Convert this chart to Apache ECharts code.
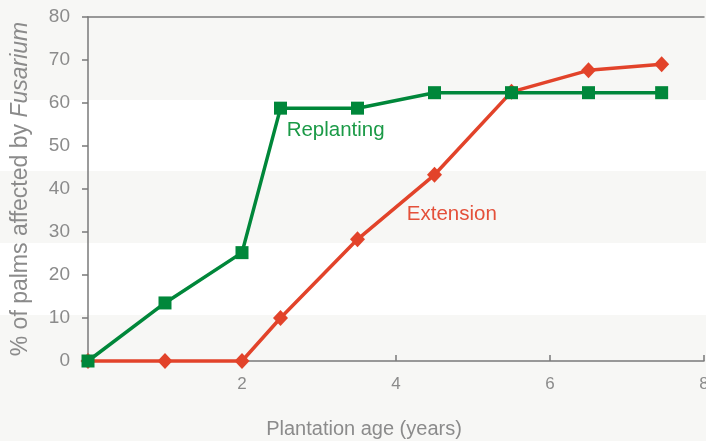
<!DOCTYPE html>
<html>
<head>
<meta charset="utf-8">
<title>Fusarium incidence by plantation age</title>
<script src="https://cdn.jsdelivr.net/npm/echarts@6/dist/echarts.min.js"></script>
<style>
  html, body { margin: 0; padding: 0; background: #f7f7f5; }
  #chart { width: 706px; height: 441px; }
</style>
</head>
<body>
<div id="chart"></div>
<script>
// Plantation age (years) at each survey point
const ages = [0, 1, 2, 2.5, 3.5, 4.5, 5.5, 6.5, 7.45];
// % of palms affected by Fusarium
const replanting = [0, 13.5, 25.2, 58.8, 58.8, 62.4, 62.4, 62.4, 62.4];
const extension = [0, 0, 0, 10, 28.3, 43.3, 62.6, 67.6, 69];

const xTicks = [0, 2, 4, 6, 8];
const yTicks = [0, 10, 20, 30, 40, 50, 60, 70, 80];

const GREEN = '#00873a';
const RED = '#e2432a';
const GREY_TEXT = '#8b8b8b';
const AXIS = '#7a7a7a';
const FONT = 'Liberation Sans, Helvetica, Arial, sans-serif';

const pairs = (xs, ys) => xs.map((x, i) => [x, ys[i]]);

const chart = echarts.init(document.getElementById('chart'), null, { renderer: 'canvas' });

chart.setOption({
  backgroundColor: '#f7f7f5',
  animation: false,
  textStyle: { fontFamily: FONT },
  // white stripes across the page background
  graphic: [
    { type: 'rect', z: -10, silent: true, shape: { x: 0, y: 100, width: 706, height: 71 }, style: { fill: '#ffffff' } },
    { type: 'rect', z: -10, silent: true, shape: { x: 0, y: 243, width: 706, height: 72 }, style: { fill: '#ffffff' } }
  ],
  grid: { left: 88, right: 2, top: 17, bottom: 80, outerBoundsMode: 'none', containLabel: false },
  xAxis: [
    {
      type: 'value',
      min: xTicks[0],
      max: xTicks[xTicks.length - 1],
      interval: 2,
      splitLine: { show: false },
      axisLine: { show: true, lineStyle: { color: AXIS, width: 1.5 } },
      axisTick: { show: true, inside: true, length: 6, lineStyle: { color: AXIS, width: 1.5 } },
      axisLabel: { showMinLabel: false, color: GREY_TEXT, fontSize: 17, margin: 15, fontFamily: FONT },
      name: 'Plantation age (years)',
      nameLocation: 'middle',
      nameGap: 58,
      nameTextStyle: { color: GREY_TEXT, fontSize: 20, fontFamily: FONT, padding: [0, 64, 0, 0] }
    },
    {
      type: 'value',
      position: 'top',
      min: xTicks[0],
      max: xTicks[xTicks.length - 1],
      axisLine: { show: true, lineStyle: { color: AXIS, width: 1.5 } },
      axisTick: { show: false },
      axisLabel: { show: false },
      splitLine: { show: false }
    }
  ],
  yAxis: {
    type: 'value',
    min: yTicks[0],
    max: yTicks[yTicks.length - 1],
    interval: 10,
    splitLine: { show: false },
    axisLine: { show: true, lineStyle: { color: AXIS, width: 1.5 } },
    axisTick: { show: true, length: 6, lineStyle: { color: AXIS, width: 1.5 } },
    axisLabel: { color: GREY_TEXT, fontSize: 19, margin: 18, fontFamily: FONT },
    name: '{n|% of palms affected by }{i|Fusarium}',
    nameLocation: 'middle',
    nameRotate: 90,
    nameGap: 56,
    nameTextStyle: {
      rich: {
        n: { color: GREY_TEXT, fontSize: 23, fontFamily: FONT },
        i: { color: GREY_TEXT, fontSize: 23, fontFamily: FONT, fontStyle: 'italic' }
      }
    }
  },
  series: [
    {
      name: 'Extension',
      type: 'line',
      data: pairs(ages, extension),
      symbol: 'diamond',
      symbolSize: [15, 16],
      showAllSymbol: true,
      clip: false,
      z: 3,
      lineStyle: { color: RED, width: 3.5 },
      itemStyle: { color: RED },
      markPoint: {
        symbol: 'circle',
        symbolSize: 0,
        data: [{ coord: [4.14, 34.1] }],
        label: {
          show: true, position: 'right', distance: 0,
          formatter: 'Extension', color: '#e4503a', fontSize: 20.5, fontFamily: FONT
        }
      }
    },
    {
      name: 'Replanting',
      type: 'line',
      data: pairs(ages, replanting),
      symbol: 'rect',
      symbolSize: 13,
      showAllSymbol: true,
      clip: false,
      z: 4,
      lineStyle: { color: GREEN, width: 3.5 },
      itemStyle: { color: GREEN },
      markPoint: {
        symbol: 'circle',
        symbolSize: 0,
        data: [{ coord: [2.58, 53.6] }],
        label: {
          show: true, position: 'right', distance: 0,
          formatter: 'Replanting', color: '#1b9a47', fontSize: 20.5, fontFamily: FONT
        }
      }
    }
  ]
});
</script>
</body>
</html>
